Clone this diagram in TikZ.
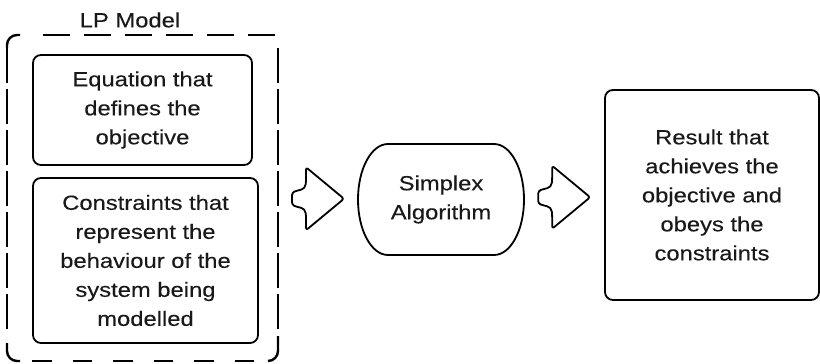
\documentclass[tikz,border=0pt]{standalone}
\usepackage{fontspec}
\setmainfont{Liberation Sans}[FakeStretch=1.16, FakeBold=0.2]
\usetikzlibrary{calc}

\begin{document}
\begin{tikzpicture}[x=1pt,y=-1pt,
  txt/.style={font=\fontsize{20.5}{29}\selectfont, text=black!90, align=center, inner sep=0pt},
  box/.style={draw, line width=1.8pt, rounded corners=8pt, txt},
  frame/.style={line width=2.4pt},
  outline/.style={line width=1.8pt, line join=round},
  pics/blockarrow/.style={code={
    \draw[outline, rounded corners=2.5pt]
      (-12,-31.5) -- (26,0) -- (-12,31.5) -- (-12,17)
      .. controls (-13,8) and (-20,9) .. (-26,6) -- (-26,-6)
      .. controls (-20,-9) and (-13,-8) .. (-12,-17) -- cycle;}}]

\useasboundingbox (0,0) rectangle (820,364);

% LP model container and its two parts
\node[inner sep=0pt, minimum width=271, minimum height=326] (lp) at (142.5,198) {};
\node[txt] (lplabel) at (130,20) {LP Model};
\node[box, minimum width=219, minimum height=110] (eq) at (142.5,110)
  {Equation that\\defines the\\objective};
\node[box, minimum width=225, minimum height=165] (con) at (145.5,260.5)
  {Constraints that\\represent the\\behaviour of the\\system being\\modelled};

% dashed outline of the container
\draw[frame, rounded corners=10pt] (7,48) -- (7,35) -- (20,35);
\draw[frame, dash pattern=on 27pt off 14pt] (43,35) -- (276,35);
\draw[frame, dash pattern=on 35pt off 6pt] (7,48) -- (7,330);
\draw[frame, dash pattern=on 35pt off 6pt] (278,48) -- (278,330);
\draw[frame, rounded corners=10pt] (7,343) -- (7,361) -- (20,361);
\draw[frame, dash pattern=on 19.5pt off 21pt] (32,361) -- (254,361);
\draw[frame, rounded corners=10pt] (278,336) -- (278,361) -- (268,361);

% algorithm (terminator shape) and result
\node[txt, minimum width=166, minimum height=111] (S) at (441,199.5) {Simplex\\Algorithm};
\draw[outline] (388,144) -- (494,144)
  .. controls (510.6,144) and (524,168.8) .. (524,199.5)
  .. controls (524,230.2) and (510.6,255) .. (494,255) -- (388,255)
  .. controls (371.4,255) and (358,230.2) .. (358,199.5)
  .. controls (358,168.8) and (371.4,144) .. (388,144) -- cycle;

\node[box, minimum width=214, minimum height=210] (res) at (712,195)
  {Result that\\achieves the\\objective and\\obeys the\\constraints};

% block arrows between the stages
\pic at ($(lp.east)!0.5!(S.west)$) {blockarrow};
\pic at ($(S.east)!0.5!(res.west)$) {blockarrow};
\end{tikzpicture}
\end{document}
